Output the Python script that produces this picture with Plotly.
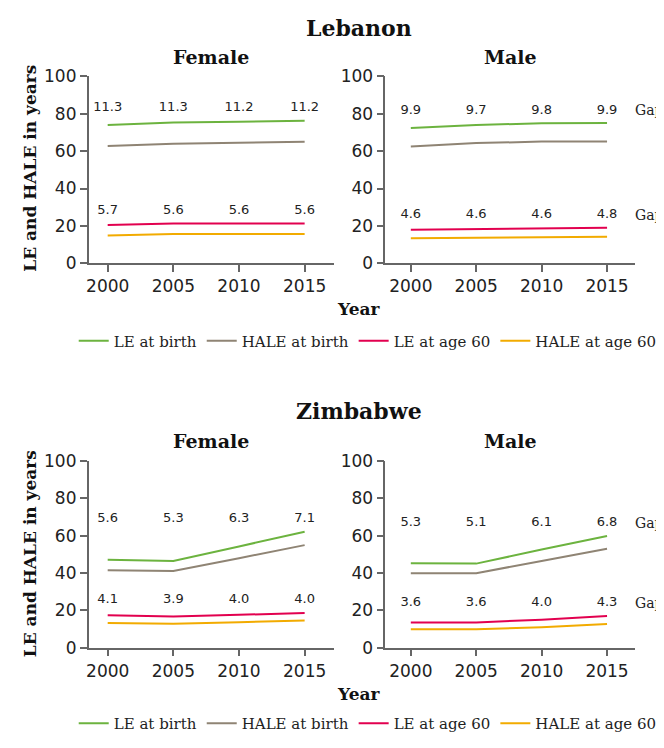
import plotly.graph_objects as go

years = [2000, 2005, 2010, 2015]

# Lebanon
leb_f_le = [74.0, 75.3, 75.7, 76.2]
leb_f_hale = [62.7, 64.0, 64.5, 65.0]
leb_f_le60 = [20.5, 21.3, 21.3, 21.3]
leb_f_hale60 = [14.8, 15.7, 15.7, 15.7]
leb_f_gap = [11.3, 11.3, 11.2, 11.2]
leb_f_gap60 = [5.7, 5.6, 5.6, 5.6]

leb_m_le = [72.4, 74.0, 74.9, 75.0]
leb_m_hale = [62.5, 64.3, 65.1, 65.1]
leb_m_le60 = [18.0, 18.4, 18.8, 19.0]
leb_m_hale60 = [13.4, 13.8, 14.2, 14.2]
leb_m_gap = [9.9, 9.7, 9.8, 9.9]
leb_m_gap60 = [4.6, 4.6, 4.6, 4.8]

# Zimbabwe
zim_f_le = [47.1, 46.4, 54.2, 62.0]
zim_f_hale = [41.5, 41.1, 47.9, 54.9]
zim_f_le60 = [17.3, 16.7, 17.6, 18.6]
zim_f_hale60 = [13.2, 12.8, 13.6, 14.6]
zim_f_gap = [5.6, 5.3, 6.3, 7.1]
zim_f_gap60 = [4.1, 3.9, 4.0, 4.0]

zim_m_le = [45.2, 45.0, 52.5, 59.8]
zim_m_hale = [39.9, 39.9, 46.4, 53.0]
zim_m_le60 = [13.5, 13.5, 15.0, 17.0]
zim_m_hale60 = [9.9, 9.9, 11.0, 12.7]
zim_m_gap = [5.3, 5.1, 6.1, 6.8]
zim_m_gap60 = [3.6, 3.6, 4.0, 4.3]

series_names = ['LE at birth', 'HALE at birth', 'LE at age 60', 'HALE at age 60']
series_colors = ['#6cb33f', '#8f8474', '#e2004f', '#f2ab00']

W, H = 664, 748
OFF = 8  # the page body margin shifts the plot by this much
SANS = 'DejaVu Sans'
SERIF = 'DejaVu Serif'


def px(x):
    # window pixel -> paper fraction
    return (x - OFF) / W


def py(y):
    return 1 - (y - OFF) / H


panels = [
    # (axis suffix, legend, series, gaps, x domain px, y domain px, x range)
    ('', 'legend', [leb_f_le, leb_f_hale, leb_f_le60, leb_f_hale60], (leb_f_gap, leb_f_gap60),
     (86, 332), (68, 260), (1998.55, 2017.2)),
    ('2', 'legend', [leb_m_le, leb_m_hale, leb_m_le60, leb_m_hale60], (leb_m_gap, leb_m_gap60),
     (384, 635), (68, 260), (1998.05, 2017.15)),
    ('3', 'legend2', [zim_f_le, zim_f_hale, zim_f_le60, zim_f_hale60], (zim_f_gap, zim_f_gap60),
     (86, 332), (463, 655), (1998.55, 2017.2)),
    ('4', 'legend2', [zim_m_le, zim_m_hale, zim_m_le60, zim_m_hale60], (zim_m_gap, zim_m_gap60),
     (384, 635), (463, 655), (1998.05, 2017.15)),
]

fig = go.Figure()
layout_axes = {}
annotations = []

for i, (sfx, leg, series, gaps, xd, yd, xr) in enumerate(panels):
    xa, ya = 'x' + sfx, 'y' + sfx
    show = i in (0, 2)
    for name, vals, color in zip(series_names, series, series_colors):
        fig.add_trace(go.Scatter(
            x=years, y=vals, mode='lines', name=name,
            line=dict(color=color, width=2),
            xaxis=xa, yaxis=ya, legend=leg, showlegend=show,
            hoverinfo='skip',
        ))
    # gap labels sit a bit above the upper line of each pair
    for gap, upper in zip(gaps, (series[0], series[2])):
        label_y = max(upper) + 6.8
        fig.add_trace(go.Scatter(
            x=years, y=[label_y] * len(years), mode='text',
            text=[f'{g:.1f}' for g in gap], textposition='middle center',
            textfont=dict(family=SANS, size=13, color='#222222'),
            xaxis=xa, yaxis=ya, showlegend=False, hoverinfo='skip',
        ))
        if sfx in ('2', '4'):
            annotations.append(dict(
                x=px(633), y=label_y, xref='paper', yref=ya, text='Gap',
                showarrow=False, xanchor='left', yanchor='middle',
                font=dict(family=SERIF, size=14, color='#222222'),
            ))

    axis_style = dict(
        showline=True, linecolor='#666666', linewidth=1.5,
        ticks='outside', ticklen=7, tickcolor='#666666', tickwidth=1.5,
        showgrid=False, zeroline=False,
        tickfont=dict(family=SANS, size=17, color='#222222'),
    )
    layout_axes['xaxis' + sfx] = dict(
        domain=[px(xd[0]), px(xd[1])], anchor=ya, range=list(xr),
        tickvals=years, **axis_style,
    )
    layout_axes['yaxis' + sfx] = dict(
        domain=[py(yd[1]), py(yd[0])], anchor=xa, range=[0, 100],
        tickvals=[0, 20, 40, 60, 80, 100], **axis_style,
    )

title_font = dict(family=SERIF, size=22, color='#111111', weight='bold')
sub_font = dict(family=SERIF, size=19, color='#111111', weight='bold')
axis_title_font = dict(family=SERIF, size=17, color='#111111', weight='bold')

for country, ty, sy, ycenter, yeary in (('Lebanon', 18, 48, 162, 307), ('Zimbabwe', 412, 443, 558, 703)):
    annotations.append(dict(x=px(358), y=py(ty), xref='paper', yref='paper', text=country,
                            showarrow=False, font=title_font, xanchor='center', yanchor='middle'))
    annotations.append(dict(x=px(209), y=py(sy), xref='paper', yref='paper', text='Female',
                            showarrow=False, font=sub_font, xanchor='center', yanchor='middle'))
    annotations.append(dict(x=px(510), y=py(sy), xref='paper', yref='paper', text='Male',
                            showarrow=False, font=sub_font, xanchor='center', yanchor='middle'))
    annotations.append(dict(x=px(27), y=py(ycenter), xref='paper', yref='paper',
                            text='LE and HALE in years', textangle=-90,
                            showarrow=False, font=axis_title_font, xanchor='center', yanchor='middle'))
    annotations.append(dict(x=px(357), y=py(yeary), xref='paper', yref='paper', text='Year',
                            showarrow=False, font=axis_title_font, xanchor='center', yanchor='middle'))

legend_style = dict(
    orientation='h', xanchor='left', yanchor='middle', x=px(71),
    font=dict(family=SERIF, size=15, color='#222222'),
    bgcolor='rgba(0,0,0,0)', itemwidth=30, traceorder='normal',
)

fig.update_layout(
    width=W, height=H,
    margin=dict(l=0, r=0, t=0, b=0),
    paper_bgcolor='white', plot_bgcolor='white',
    legend=dict(y=py(340), **legend_style),
    legend2=dict(y=py(733), **legend_style),
    annotations=annotations,
    **layout_axes,
)

fig.write_html('out.html')
